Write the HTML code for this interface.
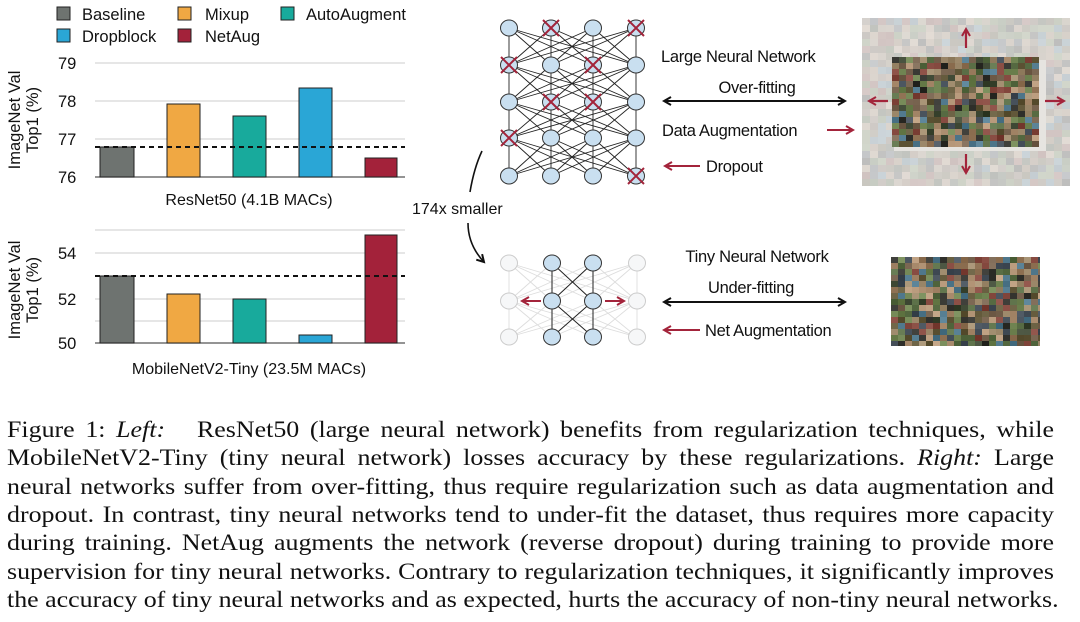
<!DOCTYPE html>
<html><head><meta charset="utf-8"><style>
html,body{margin:0;padding:0;background:#fff;}
body{width:1080px;height:622px;position:relative;overflow:hidden;}
svg{position:absolute;left:0;top:0;}
.cap{position:absolute;left:7px;width:929px;font-family:"Liberation Serif",serif;font-size:23px;color:#111;text-align:justify;text-align-last:justify;white-space:nowrap;line-height:24px;transform:scaleX(1.127);transform-origin:0 0;}
.cap.last{text-align-last:left;width:950px;}
text{font-family:"Liberation Sans",sans-serif;fill:#111;}
</style></head><body>
<svg id="s" width="1080" height="622" viewBox="0 0 1080 622">
<defs>
<marker id="ab" markerWidth="10" markerHeight="10" refX="8" refY="5" orient="auto-start-reverse" markerUnits="userSpaceOnUse"><path d="M1,1 L8,5 L1,9" fill="none" stroke="#111" stroke-width="2"/></marker>
<marker id="ar" markerWidth="10" markerHeight="10" refX="8" refY="5" orient="auto-start-reverse" markerUnits="userSpaceOnUse"><path d="M1,1 L8,5 L1,9" fill="none" stroke="#a3243b" stroke-width="2"/></marker>
</defs>
<g font-size="16.5">
<rect x="57" y="7" width="13" height="13" fill="#6e7370" stroke="#222"/><text x="82" y="20">Baseline</text>
<rect x="178" y="7" width="13" height="13" fill="#f0a843" stroke="#222"/><text x="205" y="20">Mixup</text>
<rect x="281" y="7" width="13" height="13" fill="#18aa9c" stroke="#222"/><text x="306" y="20">AutoAugment</text>
<rect x="57" y="29" width="13" height="13" fill="#2aa6d6" stroke="#222"/><text x="82" y="42">Dropblock</text>
<rect x="178" y="29" width="13" height="13" fill="#a3223a" stroke="#222"/><text x="205" y="42">NetAug</text>
</g>
<g stroke="#d6d6d6" stroke-width="1.2">
<line x1="95" y1="63" x2="405" y2="63"/><line x1="95" y1="101" x2="405" y2="101"/><line x1="95" y1="139" x2="405" y2="139"/>
</g>
<line x1="95" y1="177" x2="405" y2="177" stroke="#555" stroke-width="1.2"/>
<g font-size="16.5"><text x="58" y="69">79</text><text x="58" y="107">78</text><text x="58" y="145">77</text><text x="58" y="183">76</text></g>
<g stroke="#222" stroke-width="1">
<rect x="100" y="147" width="34" height="30" fill="#6e7370"/>
<rect x="167" y="104" width="33" height="73" fill="#f0a843"/>
<rect x="233" y="116" width="33" height="61" fill="#18aa9c"/>
<rect x="299" y="88" width="33" height="89" fill="#2aa6d6"/>
<rect x="365" y="158" width="32" height="19" fill="#a3223a"/>
</g>
<line x1="95" y1="147" x2="405" y2="147" stroke="#111" stroke-width="2" stroke-dasharray="5,4"/>
<text x="249" y="205" font-size="16" text-anchor="middle">ResNet50 (4.1B MACs)</text>
<g font-size="16.5" text-anchor="middle"><text transform="translate(20,120) rotate(-90)">ImageNet Val</text><text transform="translate(38,120) rotate(-90)">Top1 (%)</text></g>
<g stroke="#d6d6d6" stroke-width="1.2">
<line x1="95" y1="230" x2="405" y2="230"/><line x1="95" y1="253" x2="405" y2="253"/><line x1="95" y1="299" x2="405" y2="299"/><line x1="95" y1="321" x2="405" y2="321"/>
</g>
<line x1="95" y1="343" x2="405" y2="343" stroke="#555" stroke-width="1.2"/>
<g font-size="16.5"><text x="58" y="259">54</text><text x="58" y="305">52</text><text x="58" y="349">50</text></g>
<g stroke="#222" stroke-width="1">
<rect x="100" y="276" width="34" height="67" fill="#6e7370"/>
<rect x="167" y="294" width="33" height="49" fill="#f0a843"/>
<rect x="233" y="299" width="33" height="44" fill="#18aa9c"/>
<rect x="299" y="335" width="33" height="8" fill="#2aa6d6"/>
<rect x="365" y="235" width="32" height="108" fill="#a3223a"/>
</g>
<line x1="95" y1="276" x2="405" y2="276" stroke="#111" stroke-width="2" stroke-dasharray="5,4"/>
<text x="249" y="374" font-size="16" text-anchor="middle">MobileNetV2-Tiny (23.5M MACs)</text>
<g font-size="16.5" text-anchor="middle"><text transform="translate(20,290) rotate(-90)">ImageNet Val</text><text transform="translate(38,290) rotate(-90)">Top1 (%)</text></g>

<g id="net"></g>
<path d="M482,151 Q474,168 470,192" fill="none" stroke="#111" stroke-width="1.6"/>
<path d="M468,223 Q468,245 484,262" fill="none" stroke="#111" stroke-width="1.6" marker-end="url(#ab)"/>
<text x="412" y="214" font-size="16">174x smaller</text>

<g font-size="16.5" style="letter-spacing:-0.3px">
<text x="661" y="62">Large Neural Network</text>
<text x="757" y="93" text-anchor="middle">Over-fitting</text>
<text x="662" y="136">Data Augmentation</text>
<text x="706" y="172">Dropout</text>
<text x="757" y="262" text-anchor="middle">Tiny Neural Network</text>
<text x="751" y="293" text-anchor="middle">Under-fitting</text>
<text x="705" y="336">Net Augmentation</text>
</g>
<line x1="664" y1="101" x2="845" y2="101" stroke="#111" stroke-width="2" marker-start="url(#ab)" marker-end="url(#ab)"/>
<line x1="664" y1="302" x2="845" y2="302" stroke="#111" stroke-width="2" marker-start="url(#ab)" marker-end="url(#ab)"/>
<line x1="827" y1="130" x2="853" y2="130" stroke="#a3243b" stroke-width="2" marker-end="url(#ar)"/>
<line x1="700" y1="166" x2="665" y2="166" stroke="#a3243b" stroke-width="2" marker-end="url(#ar)"/>
<line x1="700" y1="330" x2="664" y2="330" stroke="#a3243b" stroke-width="2" marker-end="url(#ar)"/>

<rect x="862" y="18" width="208" height="165" fill="#e6e4e0"/>
<g id="mos"></g>
<g stroke="#a3243b" stroke-width="2.2">
<line x1="966" y1="48" x2="966" y2="29" marker-end="url(#ar)"/>
<line x1="966" y1="154" x2="966" y2="173" marker-end="url(#ar)"/>
<line x1="888" y1="101" x2="869" y2="101" marker-end="url(#ar)"/>
<line x1="1045" y1="101" x2="1064" y2="101" marker-end="url(#ar)"/>
</g>
</svg>

<div class="cap" style="top:418px">Figure 1: <i>Left:</i>&nbsp;&nbsp; ResNet50 (large neural network) benefits from regularization techniques, while</div>
<div class="cap" style="top:446px">MobileNetV2-Tiny (tiny neural network) losses accuracy by these regularizations. <i>Right:</i> Large</div>
<div class="cap" style="top:474.5px">neural networks suffer from over-fitting, thus require regularization such as data augmentation and</div>
<div class="cap" style="top:503px">dropout. In contrast, tiny neural networks tend to under-fit the dataset, thus requires more capacity</div>
<div class="cap" style="top:531px">during training. NetAug augments the network (reverse dropout) during training to provide more</div>
<div class="cap" style="top:559.5px">supervision for tiny neural networks. Contrary to regularization techniques, it significantly improves</div>
<div class="cap last" style="top:588px">the accuracy of tiny neural networks and as expected, hurts the accuracy of non-tiny neural networks.</div>

<script>
(function(){
var NS="http://www.w3.org/2000/svg";
function el(p,t,a){var e=document.createElementNS(NS,t);for(var k in a)e.setAttribute(k,a[k]);p.appendChild(e);return e;}
var net=document.getElementById('net');
var cx=[509,551,593,636], ry=[28,65,102,138,176];
var i,j,k;
for(i=0;i<4;i++)for(j=0;j<4;j++)for(k=0;k<4;k++)
 el(net,'line',{x1:cx[j],y1:ry[i],x2:cx[k],y2:ry[i+1],stroke:'#222','stroke-width':0.9});
var cross={'0,1':1,'0,3':1,'1,0':1,'1,2':1,'2,1':1,'2,2':1,'3,0':1,'4,3':1};
for(i=0;i<5;i++)for(j=0;j<4;j++){
 el(net,'ellipse',{cx:cx[j],cy:ry[i],rx:8.5,ry:8,fill:'#c9dff0',stroke:'#333','stroke-width':1});
 if(cross[i+','+j]){el(net,'path',{d:'M'+(cx[j]-8)+','+(ry[i]-8)+'L'+(cx[j]+8)+','+(ry[i]+8)+'M'+(cx[j]+8)+','+(ry[i]-8)+'L'+(cx[j]-8)+','+(ry[i]+8),stroke:'#a3243b','stroke-width':2});}
}
var tx=[509,552,593,637], ty=[263,301,337];
for(i=0;i<2;i++)for(j=0;j<4;j++)for(k=0;k<4;k++){
 var inner=(j==1||j==2)&&(k==1||k==2);
 if(!inner) el(net,'line',{x1:tx[j],y1:ty[i],x2:tx[k],y2:ty[i+1],stroke:'#ddd','stroke-width':0.9});
}
for(i=0;i<2;i++)for(j=1;j<3;j++)for(k=1;k<3;k++)
 el(net,'line',{x1:tx[j],y1:ty[i],x2:tx[k],y2:ty[i+1],stroke:'#222','stroke-width':1});
for(i=0;i<3;i++)for(j=0;j<4;j++){
 var on=(j==1||j==2);
 el(net,'ellipse',{cx:tx[j],cy:ty[i],rx:8.5,ry:8,fill:on?'#c9dff0':'#f6f7f8',stroke:on?'#333':'#ccc','stroke-width':1});
}
el(net,'line',{x1:541,y1:301,x2:522,y2:301,stroke:'#a3243b','stroke-width':2,'marker-end':'url(#ar)'});
el(net,'line',{x1:605,y1:301,x2:624,y2:301,stroke:'#a3243b','stroke-width':2,'marker-end':'url(#ar)'});
var mos=document.getElementById('mos');
var seed=7;function r(){seed=(seed*16807)%2147483647;return seed/2147483647;}
var pal=[[120,100,80],[90,110,70],[150,120,90],[70,80,90],[160,140,110],[100,90,60],[60,70,50],[180,150,120],[130,70,60],[80,120,140],[110,130,80],[50,50,45]];
function col(f){var c=pal[Math.floor(r()*pal.length)];var v=r()*40-20;return 'rgb('+[0,1,2].map(function(q){var x=c[q]+v;x=x+(235-x)*f;return Math.max(0,Math.min(255,Math.round(x)));}).join(',')+')';}
var x,y;
for(y=18;y<183;y+=7)for(x=862;x<1070;x+=8){
 if(x>=890&&x<1040&&y>=55&&y<147)continue;
 el(mos,'rect',{x:x,y:y,width:8,height:7,fill:col(0.78)});
}
function tile(x0,y0,w,h){for(var yy=y0;yy<y0+h;yy+=6)for(var xx=x0;xx<x0+w;xx+=7)el(mos,'rect',{x:xx,y:yy,width:Math.min(7,x0+w-xx),height:Math.min(6,y0+h-yy),fill:col(0)});}
tile(892,57,147,90);
tile(891,257,149,89);
})();
</script>
</body></html>
